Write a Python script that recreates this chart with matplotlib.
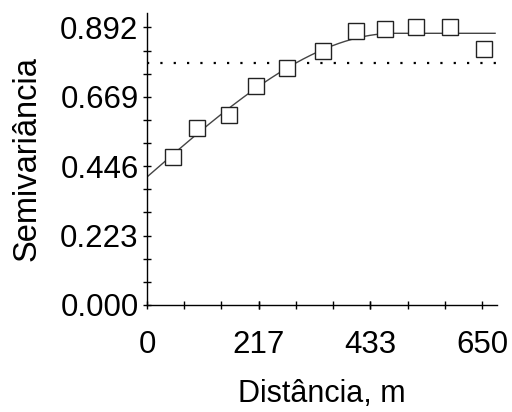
import numpy as np
import matplotlib
matplotlib.use("Agg")
import matplotlib.pyplot as plt

plt.rcParams['font.family'] = ['Liberation Sans', 'DejaVu Sans']

# semivariograma experimental
distancia = [50, 98, 160, 211, 272, 341, 405, 462, 521, 587, 653]
semivar = [0.474, 0.570, 0.610, 0.705, 0.762, 0.815, 0.879, 0.887, 0.893, 0.893, 0.822]

# modelo esferico ajustado
efeito_pepita = 0.411
patamar = 0.873
alcance = 480
variancia = 0.777

xticks = [0, 217, 433, 650]
yticks = [0.000, 0.223, 0.446, 0.669, 0.892]


def esferico(h):
    r = np.minimum(h / alcance, 1.0)
    return efeito_pepita + (patamar - efeito_pepita) * (1.5 * r - 0.5 * r ** 3)


fig = plt.figure(figsize=(5.12, 4.12), dpi=100)
ax = fig.add_axes([0.287, 0.26, 0.684, 0.709])

h = np.linspace(0, 675, 400)
ax.plot(h, esferico(h), color='#444444', lw=1.0)
ax.plot([0, 680], [variancia, variancia], color='black', lw=1.6,
        linestyle=(0, (1, 5)))
ax.plot(distancia, semivar, 's', ms=11.5, mfc='white', mec='#222222', mew=1.0,
        linestyle='none')

ax.set_xlim(0, 679)
ax.set_ylim(0, 0.939)
ax.set_xticks(xticks)
ax.set_xticklabels([str(v) for v in xticks])
ax.set_yticks(yticks)
ax.set_yticklabels(['%.3f' % v for v in yticks])
ax.set_xticks(np.arange(0, 651, 650 / 9), minor=True)
ax.set_yticks(np.arange(0, 0.893, 0.892 / 12), minor=True)

ax.tick_params(which='both', direction='inout', length=6, width=1,
               labelsize=22.5)
ax.tick_params(axis='x', which='major', pad=15)
ax.tick_params(axis='y', which='major', pad=3)

for s in ['top', 'right']:
    ax.spines[s].set_visible(False)
for s in ['left', 'bottom']:
    ax.spines[s].set_linewidth(1.0)

ax.set_xlabel('Distância, m', fontsize=22, labelpad=14)
ax.set_ylabel('Semivariância', fontsize=23.5, labelpad=13)

fig.savefig('out.png', dpi=100)
